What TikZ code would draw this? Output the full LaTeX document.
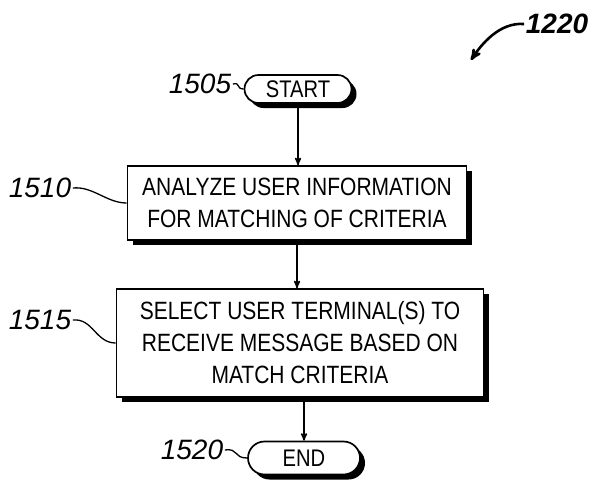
\documentclass[tikz,border=0pt]{standalone}
\usepackage{fontspec}
\setmainfont{Liberation Sans}[FakeStretch=0.84]
\newfontfamily\labfont{Liberation Sans}
\usetikzlibrary{shapes,arrows,shadows}
\tikzstyle{flowshade} = [drop shadow={shadow xshift=5pt, shadow yshift=-5pt, fill=black, opacity=1}]
\tikzstyle{term} = [draw, line width=1.7pt, rounded rectangle, fill=white, flowshade, inner sep=0pt, font=\fontsize{24}{30}\selectfont]
\tikzstyle{stepbox} = [draw, line width=1.7pt, rectangle, fill=white, flowshade, inner sep=0pt, align=center, font=\fontsize{25}{32}\selectfont]
\tikzstyle{reflabel} = [inner sep=1pt, font=\labfont\itshape\fontsize{28}{30}\selectfont]
\tikzstyle{lead} = [-, line width=1.3pt]

\begin{document}
\begin{tikzpicture}[x=1pt,y=-1pt,->,>=stealth',line width=1.5pt]
\useasboundingbox (0,0) rectangle (593,483);

\node[term, minimum width=107pt, minimum height=28pt] (start) at (298,89) {START};
\node[stepbox, minimum width=339pt, minimum height=74pt] (analyze) at (297,203) {ANALYZE USER INFORMATION\\FOR MATCHING OF CRITERIA};
\node[stepbox, minimum width=367pt, minimum height=108pt] (select) at (300,343) {SELECT USER TERMINAL(S) TO\\RECEIVE MESSAGE BASED ON\\MATCH CRITERIA};
\node[term, minimum width=112pt, minimum height=33pt] (end) at (304,458) {END};

\node[reflabel] (l1505) at (200,84) {1505};
\node[reflabel] (l1510) at (40,188) {1510};
\node[reflabel] (l1515) at (40,320) {1515};
\node[reflabel] (l1520) at (192,450) {1520};
\node[reflabel, font=\labfont\bfseries\itshape\fontsize{28}{30}\selectfont] (l1220) at (557,24) {1220};
\coordinate (tip1220) at (471,60);

\path
(start.south) edge [] node {} (start.south |- analyze.north)
(analyze.south) edge [] node {} (analyze.south |- select.north)
(select.south -| end.north) edge [] node {} (end.north);

\draw[lead] (l1505.east) .. controls +(8,-2) and +(-8,0) .. (start.west);
\draw[lead] (l1510.east) .. controls +(20,-2) and +(-20,0) .. (analyze.west);
\draw[lead] (l1515.east) .. controls +(20,-2) and +(-20,0) .. (select.west);
\draw[lead] (l1520.east) .. controls +(14,-2) and +(-14,0) .. (end.west);
\draw[line width=2.6pt] (l1220.west) .. controls +(-25,-2) and +(10,-15) .. (tip1220);
\end{tikzpicture}
\end{document}
